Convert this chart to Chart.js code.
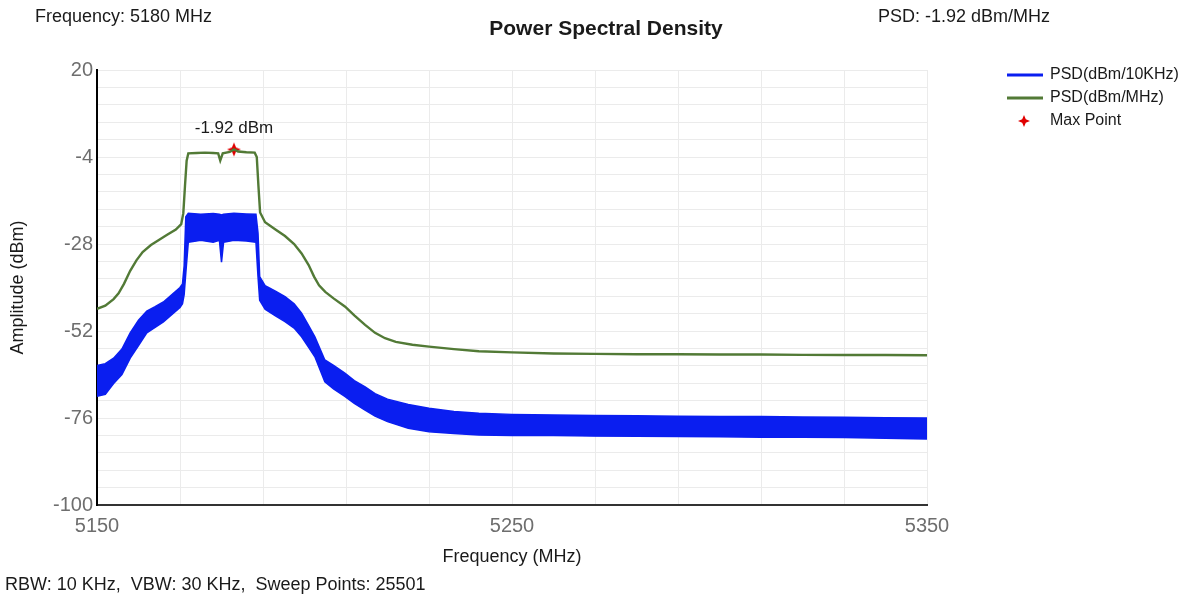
<!DOCTYPE html>
<html>
<head>
<meta charset="utf-8">
<script src="https://cdn.jsdelivr.net/npm/chart.js@4.4.0/dist/chart.umd.min.js"></script>
<style>
  html, body { margin: 0; padding: 0; background: #fff; }
</style>
</head>
<body>
<canvas id="psdChart" width="1200" height="598"></canvas>
<script>
// PSD(dBm/MHz) trace
const mhzFreq = [5150, 5152, 5154, 5155.2, 5156.5, 5158, 5159.5, 5161, 5163, 5165, 5167, 5169, 5170.3, 5170.8, 5171.2, 5171.6,
  5172, 5174, 5176, 5178, 5179.2, 5179.7, 5180.3, 5182, 5183, 5184, 5186, 5188, 5188.5, 5188.9, 5189.3,
  5190.5, 5193, 5195.3, 5197.5, 5199.3, 5201, 5202.3, 5203.5, 5205, 5207, 5209.8, 5212, 5214.6, 5217, 5219.4,
  5222, 5226, 5230, 5236, 5242, 5250, 5260, 5270, 5280, 5290, 5300, 5310, 5320, 5330, 5340, 5350];
const mhzPsd = [-45.9, -45.0, -43.2, -41.6, -39.0, -35.4, -32.5, -30.2, -28.3, -26.8, -25.4, -24.0, -22.5, -19.5, -12.0, -5.0,
  -3.0, -2.9, -2.8, -2.9, -3.0, -5.0, -3.0, -2.6, -1.92, -2.5, -2.7, -2.8, -4.0, -12.0, -19.3,
  -22.0, -24.0, -25.8, -28.0, -30.6, -33.8, -37.0, -39.4, -41.2, -43.0, -45.3, -47.7, -50.3, -52.5, -54.0,
  -55.0, -55.8, -56.3, -57.0, -57.6, -57.9, -58.2, -58.3, -58.4, -58.4, -58.5, -58.5, -58.6, -58.6, -58.6, -58.7];

// PSD(dBm/10KHz) trace is a noisy band: top and bottom edges of the band
const khzFreq = [5150, 5152, 5154, 5156, 5158, 5160, 5162, 5164, 5166, 5168, 5170, 5170.6, 5171.0, 5171.4,
  5172, 5175, 5178, 5179.5, 5180, 5180.5, 5183, 5186, 5188.3, 5188.8, 5189.2,
  5190.5, 5193, 5195.3, 5197.5, 5199.3, 5201, 5202.5, 5204.9, 5207, 5209.8, 5212, 5214.6, 5217, 5220,
  5225, 5230, 5236, 5242, 5250, 5260, 5270, 5280, 5290, 5300, 5310, 5320, 5330, 5340, 5350];
const khzTop = [-61.5, -61.0, -59.5, -57.0, -52.5, -49.0, -46.5, -45.3, -44.0, -42.0, -40.0, -39.0, -34.0, -20.5,
  -19.5, -19.8, -19.6, -19.8, -20.0, -19.8, -19.5, -19.7, -19.8, -25.0, -37.0,
  -39.5, -41.0, -42.5, -44.5, -47.1, -50.5, -53.6, -60.0, -61.5, -63.7, -65.7, -67.4, -69.3, -70.8,
  -72.3, -73.3, -74.2, -74.7, -75.0, -75.2, -75.3, -75.4, -75.5, -75.6, -75.6, -75.7, -75.8, -75.9, -76.0];
const khzBottom = [-70.0, -69.5, -66.5, -64.0, -59.5, -56.0, -52.5, -51.0, -49.5, -47.5, -45.5, -44.5, -42.0, -36.0,
  -27.5, -27.0, -27.5, -27.0, -33.0, -27.5, -27.0, -27.2, -27.5, -37.0, -43.5,
  -46.0, -47.8, -49.4, -51.2, -53.6, -56.5, -59.1, -66.0, -68.0, -70.1, -72.0, -73.8, -75.5, -77.0,
  -78.8, -79.8, -80.3, -80.7, -80.8, -80.8, -81.0, -81.0, -81.1, -81.2, -81.3, -81.3, -81.4, -81.6, -81.8];

const maxFreq = 5183;
const maxPsd = -1.92;

const xTickLabels = [5150, 5250, 5350];
const yTickLabels = [20, -4, -28, -52, -76, -100];
const xGrid = [5150, 5170, 5190, 5210, 5230, 5250, 5270, 5290, 5310, 5330, 5350];
const yGrid = [];
for (let i = 0; i <= 25; i++) yGrid.push(-100 + 4.8 * i);

const FONT = '"Liberation Sans", Arial, sans-serif';
const BLUE = '#0a1ef0';
const GREEN = '#527a36';
const RED = '#e00000';

const pts = (xs, ys) => xs.map((x, i) => ({ x: x, y: ys[i] }));

// small 4 pointed star, used for the max point and its legend entry
function star4(ctx, cx, cy, r) {
  const k = r * 0.3;
  ctx.beginPath();
  ctx.moveTo(cx, cy - r);
  ctx.lineTo(cx + k, cy - k);
  ctx.lineTo(cx + r, cy);
  ctx.lineTo(cx + k, cy + k);
  ctx.lineTo(cx, cy + r);
  ctx.lineTo(cx - k, cy + k);
  ctx.lineTo(cx - r, cy);
  ctx.lineTo(cx - k, cy - k);
  ctx.closePath();
  ctx.fill();
}

const starCanvas = document.createElement('canvas');
starCanvas.width = 16; starCanvas.height = 16;
(function () {
  const c = starCanvas.getContext('2d');
  c.fillStyle = RED;
  star4(c, 8, 8, 7);
})();

// extra text: header, footer, legend, max label
const textPlugin = {
  id: 'psdText',
  afterDraw(chart) {
    const ctx = chart.ctx;
    const xs = chart.scales.x, ys = chart.scales.y;
    ctx.save();
    ctx.fillStyle = '#1a1a1a';
    ctx.textBaseline = 'middle';
    ctx.font = '18px ' + FONT;
    ctx.textAlign = 'left';
    ctx.fillText('Frequency: 5180 MHz', 35, 17);
    ctx.fillText('PSD: -1.92 dBm/MHz', 878, 17);
    ctx.fillText('RBW: 10 KHz,  VBW: 30 KHz,  Sweep Points: 25501', 5, 585);
    ctx.font = 'bold 21px ' + FONT;
    ctx.textAlign = 'center';
    ctx.fillText('Power Spectral Density', 606, 29);

    // max point label
    ctx.font = '17px ' + FONT;
    ctx.fillText(maxPsd + ' dBm', xs.getPixelForValue(maxFreq), ys.getPixelForValue(maxPsd) - 21);

    // legend
    ctx.textAlign = 'left';
    ctx.font = '16px ' + FONT;
    ctx.lineWidth = 3;
    ctx.strokeStyle = BLUE;
    ctx.beginPath(); ctx.moveTo(1007, 75); ctx.lineTo(1043, 75); ctx.stroke();
    ctx.strokeStyle = GREEN;
    ctx.beginPath(); ctx.moveTo(1007, 98); ctx.lineTo(1043, 98); ctx.stroke();
    ctx.fillStyle = RED;
    star4(ctx, 1024, 121, 6);
    ctx.fillStyle = '#1a1a1a';
    ctx.fillText('PSD(dBm/10KHz)', 1050, 75);
    ctx.fillText('PSD(dBm/MHz)', 1050, 98);
    ctx.fillText('Max Point', 1050, 121);
    ctx.restore();
  }
};

new Chart(document.getElementById('psdChart'), {
  type: 'line',
  data: {
    datasets: [
      {
        label: 'PSD(dBm/10KHz)',
        data: pts(khzFreq, khzTop),
        borderColor: BLUE,
        backgroundColor: BLUE,
        borderWidth: 1.5,
        pointRadius: 0,
        fill: '+1'
      },
      {
        label: 'PSD(dBm/10KHz) low',
        data: pts(khzFreq, khzBottom),
        borderColor: BLUE,
        backgroundColor: BLUE,
        borderWidth: 1.5,
        pointRadius: 0,
        fill: false
      },
      {
        label: 'PSD(dBm/MHz)',
        data: pts(mhzFreq, mhzPsd),
        borderColor: GREEN,
        backgroundColor: GREEN,
        borderWidth: 2.4,
        pointRadius: 0,
        fill: false
      },
      {
        label: 'Max Point',
        data: [{ x: maxFreq, y: maxPsd }],
        showLine: false,
        pointStyle: starCanvas,
        pointRadius: 8,
        borderWidth: 0,
        backgroundColor: RED,
        borderColor: RED
      }
    ]
  },
  options: {
    responsive: false,
    animation: false,
    layout: { padding: { left: 0, top: 70, right: 273, bottom: 0 } },
    plugins: {
      legend: { display: false },
      title: { display: false },
      tooltip: { enabled: false }
    },
    scales: {
      x: {
        type: 'linear',
        min: 5150,
        max: 5350,
        afterBuildTicks: s => { s.ticks = xGrid.map(v => ({ value: v })); },
        afterFit: s => { s.height = 93; },
        ticks: {
          autoSkip: false,
          maxRotation: 0,
          padding: 9,
          color: '#6e6e6e',
          font: { family: FONT, size: 20 },
          callback: v => xTickLabels.includes(v) ? String(v) : ''
        },
        grid: { color: '#ebebeb', drawTicks: false },
        border: { color: '#333', width: 2 },
        title: {
          display: true,
          text: 'Frequency (MHz)',
          color: '#1a1a1a',
          font: { family: FONT, size: 18 },
          padding: { top: 0, bottom: 30 }
        }
      },
      y: {
        min: -100,
        max: 20,
        afterBuildTicks: s => { s.ticks = yGrid.map(v => ({ value: v })); },
        afterFit: s => { s.width = 97; },
        ticks: {
          autoSkip: false,
          padding: 4,
          color: '#6e6e6e',
          font: { family: FONT, size: 20 },
          callback: v => {
            const hit = yTickLabels.find(t => Math.abs(t - v) < 0.01);
            return hit === undefined ? '' : String(hit);
          }
        },
        grid: { color: '#ebebeb', drawTicks: false },
        border: { color: '#000', width: 2 },
        title: {
          display: true,
          text: 'Amplitude (dBm)',
          color: '#1a1a1a',
          font: { family: FONT, size: 18 },
          padding: { top: 7, bottom: 0 }
        }
      }
    }
  },
  plugins: [textPlugin]
});
</script>
</body>
</html>
